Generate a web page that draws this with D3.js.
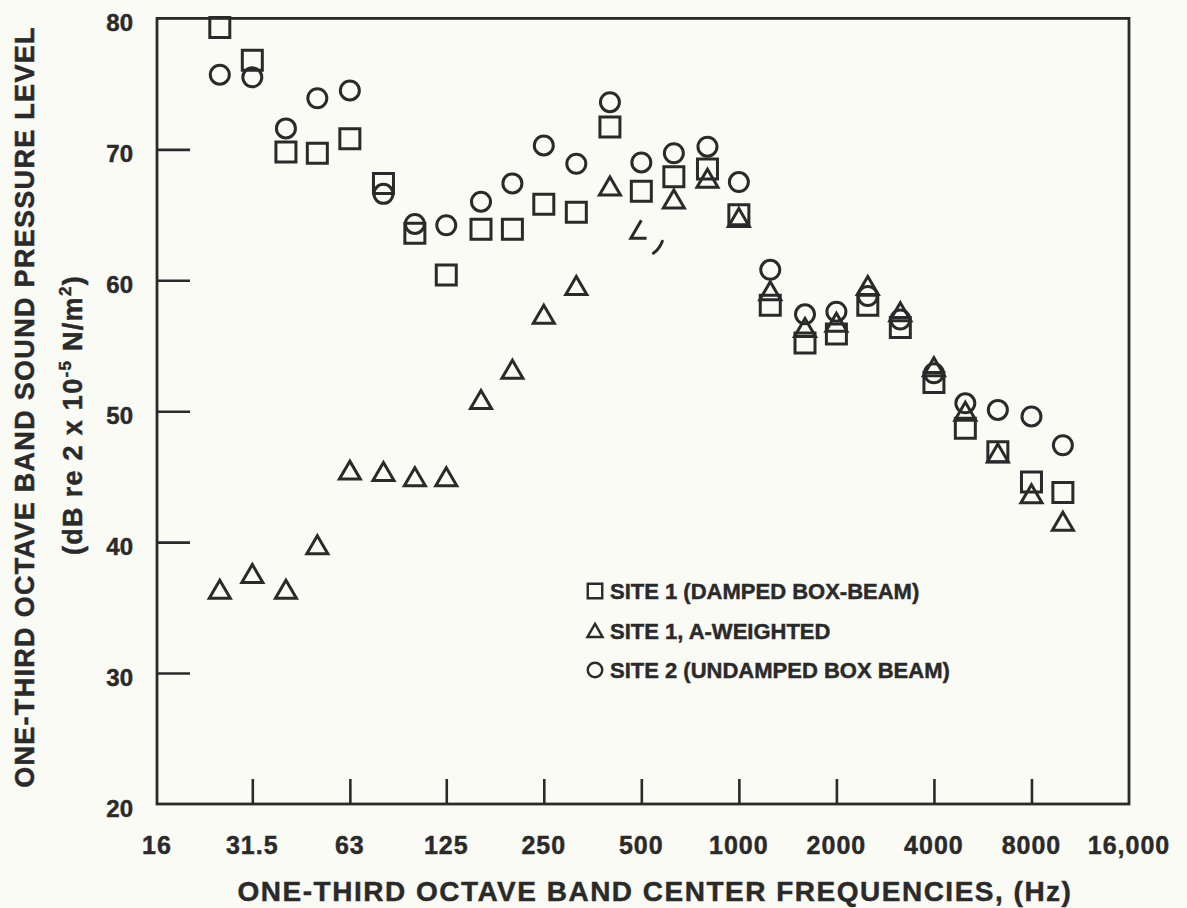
<!DOCTYPE html>
<html>
<head>
<meta charset="utf-8">
<script src="https://cdn.jsdelivr.net/npm/d3@7"></script>
<style>
  html, body { margin: 0; padding: 0; background: #fbfbf6; }
  svg { display: block; }
  text { font-family: "Liberation Sans", Arial, Helvetica, sans-serif; font-weight: bold;
         fill: #2a2a2a; stroke: #2a2a2a; stroke-width: 0.45px; }
</style>
</head>
<body>
<svg id="chart" width="1187" height="908"></svg>
<script>
// One-third octave band centre frequencies (Hz)
const bandFreqs = [25, 31.5, 40, 50, 63, 80, 100, 125, 160, 200, 250, 315, 400, 500,
                   630, 800, 1000, 1250, 1600, 2000, 2500, 3150, 4000, 5000, 6300, 8000, 10000];

// Sound pressure level per band, dB re 2 x 10^-5 N/m^2
const site1Damped = [79.3, 76.8, 69.8, 69.7, 70.8, 67.4, 63.6, 60.4, 63.9, 63.9, 65.8, 65.2, 71.7, 66.8,
                     67.9, 68.5, 65.0, 58.1, 55.2, 55.9, 58.1, 56.4, 52.2, 48.7, 46.9, 44.6, 43.8];
const site1AWeighted = [36.4, 37.6, 36.4, 39.8, 45.5, 45.4, 45.0, 45.0, 50.9, 53.2, 57.4, 59.6, 67.2, 63.9,
                        66.2, 67.8, 64.8, 59.2, 56.4, 56.8, 59.6, 57.6, 53.4, 50.0, 46.8, 43.7, 41.6];
const site2Undamped = [75.7, 75.5, 71.6, 73.9, 74.5, 66.6, 64.3, 64.2, 66.0, 67.4, 70.3, 68.9, 73.6, 69.0,
                       69.7, 70.2, 67.5, 60.8, 57.4, 57.6, 58.8, 57.0, 52.9, 50.6, 50.1, 49.6, 47.4];

// Axis ticks
const xTickValues = [16, 31.5, 63, 125, 250, 500, 1000, 2000, 4000, 8000, 16000];
const xTickLabels = ["16", "31.5", "63", "125", "250", "500", "1000", "2000", "4000", "8000", "16,000"];
const yTickValues = [20, 30, 40, 50, 60, 70, 80];

const seriesNames = ["SITE 1 (DAMPED BOX-BEAM)", "SITE 1, A-WEIGHTED", "SITE 2 (UNDAMPED BOX BEAM)"];

const INK = "#2a2a2a";
const svg = d3.select("#chart");

const plot = { left: 157, right: 1129, top: 18.4, bottom: 804 };
const x = d3.scaleLog().domain([16, 16000]).range([plot.left, plot.right]);
const y = d3.scaleLinear().domain([20, 80]).range([plot.bottom, plot.top]);

// Frame
svg.append("rect")
  .attr("x", plot.left).attr("y", plot.top)
  .attr("width", plot.right - plot.left).attr("height", plot.bottom - plot.top)
  .attr("fill", "none").attr("stroke", INK).attr("stroke-width", 2.8);

// Inward tick marks (corners carry no tick)
const xAxis = d3.axisTop(x)
  .tickValues(xTickValues.slice(1, -1))
  .tickSize(25).tickSizeOuter(0).tickFormat("");
svg.append("g").attr("transform", `translate(0,${plot.bottom})`).call(xAxis)
  .call(g => g.select(".domain").remove())
  .call(g => g.selectAll(".tick line").attr("stroke", INK).attr("stroke-width", 2.6));

const yAxis = d3.axisRight(y)
  .tickValues(yTickValues.slice(1, -1))
  .tickSize(33).tickSizeOuter(0).tickFormat("");
svg.append("g").attr("transform", `translate(${plot.left},0)`).call(yAxis)
  .call(g => g.select(".domain").remove())
  .call(g => g.selectAll(".tick line").attr("stroke", INK).attr("stroke-width", 2.6));

// Tick labels
svg.append("g").selectAll("text").data(xTickValues).join("text")
  .attr("x", d => x(d)).attr("y", 854)
  .attr("text-anchor", "middle")
  .style("font-size", "25px").style("letter-spacing", "1px")
  .text((d, i) => xTickLabels[i]);

svg.append("g").selectAll("text").data(yTickValues).join("text")
  .attr("x", 133).attr("y", d => y(d) + 12.5)
  .attr("text-anchor", "end")
  .style("font-size", "24px")
  .text(d => d);

// Axis titles
svg.append("text")
  .attr("x", 655).attr("y", 901)
  .attr("text-anchor", "middle")
  .style("font-size", "28px").style("letter-spacing", "1.5px")
  .text("ONE-THIRD OCTAVE BAND CENTER FREQUENCIES, (Hz)");

svg.append("text")
  .attr("transform", "translate(34,407) rotate(-90)")
  .attr("text-anchor", "middle")
  .style("font-size", "27px").style("letter-spacing", "1.3px")
  .text("ONE-THIRD OCTAVE BAND SOUND PRESSURE LEVEL");

const unit = svg.append("text")
  .attr("transform", "translate(82,415) rotate(-90)")
  .attr("text-anchor", "middle")
  .style("font-size", "27px").style("letter-spacing", "1.3px");
unit.append("tspan").text("(dB re 2 x 10");
unit.append("tspan").attr("dy", -11).style("font-size", "17px").text("-5");
unit.append("tspan").attr("dy", 11).text(" N/m");
unit.append("tspan").attr("dy", -11).style("font-size", "17px").text("2");
unit.append("tspan").attr("dy", 11).text(")");

// Marker shapes, centred on their bounding box
const markers = {
  square: s => `M${-s / 2},${-s / 2}h${s}v${s}h${-s}Z`,
  triangle: s => { const w = s * 1.05, h = s * 0.9; return `M0,${-h / 2}L${w / 2},${h / 2}L${-w / 2},${h / 2}Z`; },
  // same triangle traced apex -> left -> right, for the partly printed glyph
  triangleLeftFirst: s => { const w = s * 1.05, h = s * 0.9; return `M0,${-h / 2}L${-w / 2},${h / 2}L${w / 2},${h / 2}Z`; },
  circle: s => d3.arc()({ innerRadius: 0, outerRadius: s / 2, startAngle: 0, endAngle: 2 * Math.PI })
};

const series = [
  { name: seriesNames[0], values: site1Damped, shape: "square", size: 20 },
  { name: seriesNames[1], values: site1AWeighted, shape: "triangle", size: 20 },
  { name: seriesNames[2], values: site2Undamped, shape: "circle", size: 19 }
];

// The A-weighted glyph at this band is only partly printed
const faintGlyphBand = 500;

const marks = svg.append("g").attr("fill", "none").attr("stroke", INK).attr("stroke-width", 3)
  .attr("stroke-linejoin", "miter");

series.forEach(s => {
  const pts = bandFreqs.map((f, i) => ({ f, v: s.values[i] }));
  marks.append("g").selectAll("path").data(pts).join("path")
    .attr("transform", d => `translate(${x(d.f)},${y(d.v)})`)
    .each(function (d) {
      const el = d3.select(this);
      if (s.shape === "triangle" && d.f === faintGlyphBand) {
        const w = s.size * 1.05, h = s.size * 0.9;
        const side = Math.hypot(w / 2, h);
        el.attr("d", markers.triangleLeftFirst(s.size))
          .attr("stroke-dasharray", `${side + w * 0.75} 200`);
        d3.select(this.parentNode).append("path")
          .attr("transform", `translate(${x(d.f)},${y(d.v)})`)
          .attr("d", "M21,12Q18,20 12,24")
          .attr("stroke-linecap", "round");
      } else {
        el.attr("d", markers[s.shape](s.size));
      }
    });
});

// Legend
const legend = svg.append("g").attr("transform", "translate(595,591)");
series.forEach((s, i) => {
  const row = legend.append("g").attr("transform", `translate(0,${i * 39.5})`);
  row.append("path")
    .attr("d", markers[s.shape](14.5))
    .attr("fill", "none").attr("stroke", INK).attr("stroke-width", 2.4);
  row.append("text")
    .attr("x", 15).attr("y", 8)
    .style("font-size", "22px")
    .text(s.name);
});
</script>
</body>
</html>
